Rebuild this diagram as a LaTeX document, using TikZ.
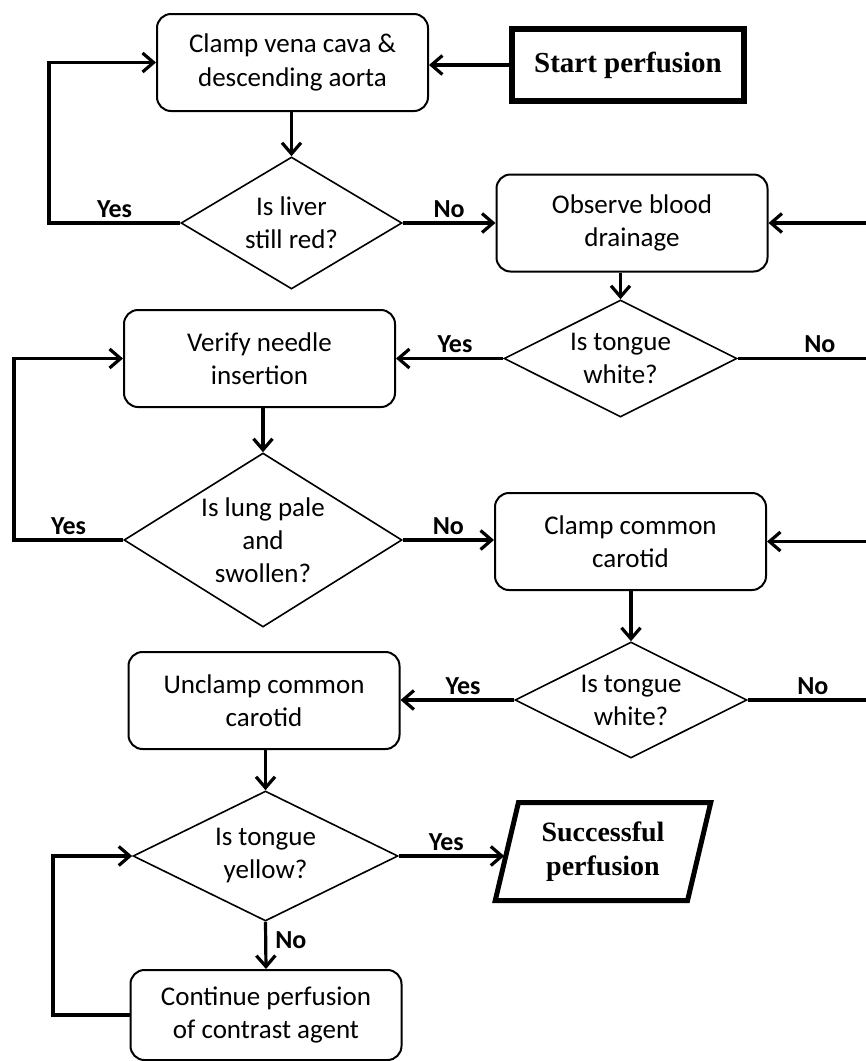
\documentclass[tikz,border=0pt]{standalone}
\usepackage{fontspec}
\newfontfamily\carlito{Carlito}
\newfontfamily\timesfont{Liberation Serif}
\usepackage{tikz}
\usetikzlibrary{arrows.meta}
\usetikzlibrary{shapes}
\usetikzlibrary{calc}

\begin{document}
\begin{tikzpicture}[x=1pt, y=-1pt, >={Straight Barb[length=11pt,width=19pt]},
process/.style={rectangle, rounded corners=14pt, draw, line width=2pt, minimum width=271pt, minimum height=97pt, align=center, font=\carlito\fontsize{27}{33.5}\selectfont},
decision/.style={diamond, draw, line width=1.6pt, inner sep=0pt, align=center, font=\carlito\fontsize{27}{33}\selectfont},
terminal/.style={rectangle, draw, line width=6pt, minimum width=232pt, minimum height=72pt, font=\timesfont\bfseries\fontsize{29}{34}\selectfont},
result/.style={trapezium, trapezium left angle=75, trapezium right angle=105, trapezium stretches=true, draw, line width=5pt, minimum width=216pt, minimum height=98pt, align=center, font=\timesfont\bfseries\fontsize{28}{34}\selectfont},
flow/.style={->, line width=3.2pt},
link/.style={line width=3.2pt},
answer/.style={above=1pt, inner sep=3pt, font=\carlito\bfseries\fontsize{26}{30}\selectfont}]
\useasboundingbox (0,0) rectangle (866,1061);
\node[process] (clamp) at (292.5,62.5) {Clamp vena cava \&\\descending aorta};
\node[terminal] (start) at (628,65) {Start perfusion};
\node[decision, aspect=1.67, minimum width=221pt, minimum height=132pt] (liver) at (291.5,223) {Is liver\\still red?};
\node[process] (observe) at (632,223) {Observe blood\\drainage};
\node[decision, aspect=2, minimum width=233pt, minimum height=117pt] (tongueA) at (620.5,358.5) {Is tongue\\white?};
\node[process] (verify) at (259.5,358.5) {Verify needle\\insertion};
\node[decision, aspect=1.6, minimum width=278pt, minimum height=174pt] (lung) at (263,540) {Is lung pale\\and\\swollen?};
\node[process] (carotid) at (630.5,541.5) {Clamp common\\carotid};
\node[decision, aspect=2, minimum width=232pt, minimum height=116pt] (tongueB) at (631,700) {Is tongue\\white?};
\node[process] (unclamp) at (264,700.5) {Unclamp common\\carotid};
\node[decision, aspect=2.04, minimum width=265pt, minimum height=130pt] (yellow) at (265.5,856) {Is tongue\\yellow?};
\node[result] (success) at (603,851.5) {Successful\\perfusion};
\node[process, minimum height=90pt] (cont) at (266,1015) {Continue perfusion\\of contrast agent};
% loop corners and cut ends at the right border
\coordinate (L1) at (49,0);
\coordinate (L2) at (14,0);
\coordinate (L3) at (53,0);
\coordinate (R1) at (866,223);
\coordinate (R2) at (866,358.5);
\coordinate (R3) at (866,541.5);
\coordinate (R4) at (866,700);
\draw[flow] (start.west) -- (start.west -| clamp.east);
\draw[flow] (clamp.south -| liver.north) -- (liver.north);
\draw[flow] (liver.west) -- node[answer]{Yes} (liver.west -| L1) |- (clamp.west);
\draw[flow] (liver.east) -- node[answer]{No} (observe.west);
\draw[flow] (R1) -- (observe.east);
\draw[flow] (observe.south -| tongueA.north) -- (tongueA.north);
\draw[flow] (tongueA.west) -- node[answer, pos=.45]{Yes} (verify.east);
\draw[link] (tongueA.east) -- node[answer, pos=.64]{No} (R2);
\draw[flow] (verify.south -| lung.north) -- (lung.north);
\draw[flow] (lung.west) -- node[answer]{Yes} (lung.west -| L2) |- (verify.west);
\draw[flow] (lung.east) -- node[answer]{No} (lung.east -| carotid.west);
\draw[flow] (R3) -- (carotid.east);
\draw[flow] (carotid.south -| tongueB.north) -- (tongueB.north);
\draw[flow] (tongueB.west) -- node[answer, pos=.45]{Yes} (tongueB.west -| unclamp.east);
\draw[link] (tongueB.east) -- node[answer, pos=.55]{No} (R4);
\draw[flow] (unclamp.south -| yellow.north) -- (yellow.north);
\draw[flow] (yellow.east) -- node[answer, pos=.45]{Yes} (yellow.east -| success.west);
\draw[flow] (yellow.south) -- node[answer, right=5pt, pos=.4]{No} (cont.north);
\draw[flow] (cont.west) -- (cont.west -| L3) |- (yellow.west);
\end{tikzpicture}
\end{document}
